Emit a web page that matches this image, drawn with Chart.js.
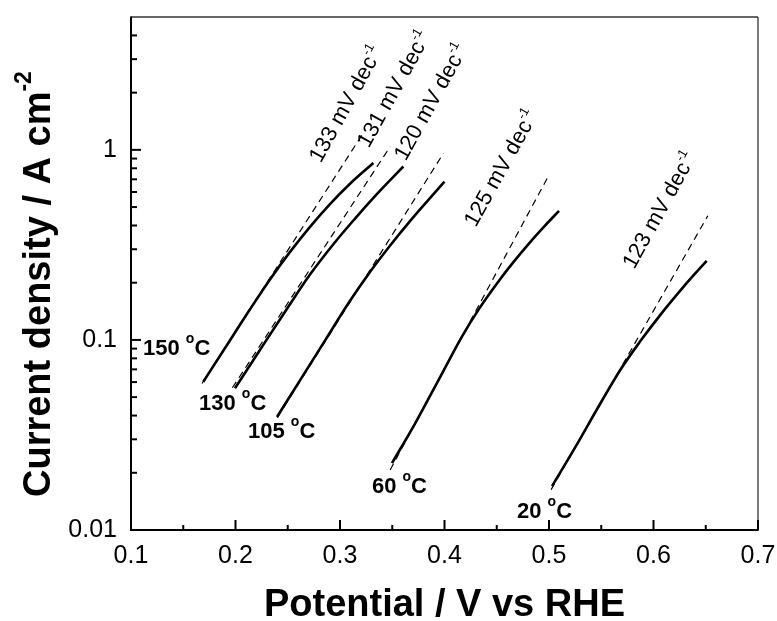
<!DOCTYPE html>
<html lang="en">
<head>
    <meta charset="UTF-8">
    <title>Tafel plots</title>
    <script src="https://cdn.jsdelivr.net/npm/chart.js"></script>
    <style>
        body { margin: 0; background: #fff; }
        canvas { display: block; }
    </style>
</head>
<body>
    <canvas id="chart" width="777" height="621"></canvas>
    <script>
        // measured curves: potential (V vs RHE) and current density (A cm-2)
        const potential150 = [0.1692, 0.1900, 0.2139, 0.2330, 0.2522, 0.2713, 0.2904, 0.3096, 0.3319];
        const current150 = [0.0603, 0.0907, 0.1450, 0.2082, 0.2905, 0.3933, 0.5184, 0.6632, 0.8521];
        const potential130 = [0.1995, 0.2234, 0.2474, 0.2713, 0.2952, 0.3144, 0.3335, 0.3478, 0.3606];
        const current130 = [0.0557, 0.0886, 0.1407, 0.2209, 0.3267, 0.4349, 0.5705, 0.6910, 0.8171];
        const potential105 = [0.2397, 0.2617, 0.2856, 0.3096, 0.3287, 0.3478, 0.3670, 0.3842, 0.4000];
        const current105 = [0.0393, 0.0613, 0.0992, 0.1606, 0.2277, 0.3128, 0.4214, 0.5422, 0.680];
        const potential60 = [0.3498, 0.3718, 0.3957, 0.4167, 0.4340, 0.4502, 0.4665, 0.4818, 0.4962, 0.5096];
        const current60 = [0.0225, 0.0363, 0.0636, 0.1042, 0.1483, 0.1983, 0.2589, 0.3264, 0.3996, 0.4776];
        const potential20 = [0.5029, 0.5249, 0.5469, 0.5679, 0.5871, 0.6062, 0.6254, 0.6397, 0.6509];
        const current20 = [0.0170, 0.0271, 0.0441, 0.0691, 0.0980, 0.1347, 0.1811, 0.2230, 0.2604];

        // Tafel fits (dashed), end points of each line
        const tafelPotential150 = [0.168, 0.322];
        const tafelCurrent150 = [0.059, 1.22];
        const tafelPotential130 = [0.197, 0.348];
        const tafelCurrent130 = [0.056, 1.04];
        const tafelPotential105 = [0.240, 0.399];
        const tafelCurrent105 = [0.039, 0.96];
        const tafelPotential60 = [0.348, 0.499];
        const tafelCurrent60 = [0.0207, 0.72];
        const tafelPotential20 = [0.502, 0.652];
        const tafelCurrent20 = [0.0163, 0.45];

        const temperatures = ['150', '130', '105', '60', '20'];
        const tafelSlopes = ['133', '131', '120', '125', '123'];

        // axis ticks
        const xTickValues = [0.1, 0.2, 0.3, 0.4, 0.5, 0.6, 0.7];
        const xTickLabels = ['0.1', '0.2', '0.3', '0.4', '0.5', '0.6', '0.7'];
        const xMinorTicks = [0.15, 0.25, 0.35, 0.45, 0.55, 0.65];
        const yTickValues = [0.01, 0.1, 1];
        const yTickLabels = ['0.01', '0.1', '1'];
        const yMinorTicks = [0.02, 0.03, 0.04, 0.05, 0.06, 0.07, 0.08, 0.09,
                             0.2, 0.3, 0.4, 0.5, 0.6, 0.7, 0.8, 0.9, 2, 3, 4];

        // where the annotations sit, in data units
        const tempLabelX = [0.1115, 0.1651, 0.2120, 0.3306, 0.4694];
        const tempLabelY = [0.0834, 0.0428, 0.0305, 0.01565, 0.01157];
        const slopeLabelX = [0.2815, 0.3275, 0.3628, 0.4300, 0.5815];
        const slopeLabelY = [0.844, 1.012, 0.865, 0.3886, 0.2336];

        const FONT = '"Liberation Sans", Arial, Helvetica, sans-serif';
        Chart.defaults.font.family = FONT;
        Chart.defaults.color = '#000';

        const toPoints = (xs, ys) => xs.map((x, i) => ({ x: x, y: ys[i] }));

        const curves = [
            [potential150, current150], [potential130, current130], [potential105, current105],
            [potential60, current60], [potential20, current20]
        ];
        const fits = [
            [tafelPotential150, tafelCurrent150], [tafelPotential130, tafelCurrent130],
            [tafelPotential105, tafelCurrent105], [tafelPotential60, tafelCurrent60],
            [tafelPotential20, tafelCurrent20]
        ];

        const datasets = [];
        curves.forEach((c, i) => datasets.push({
            label: temperatures[i] + ' °C',
            data: toPoints(c[0], c[1]),
            borderColor: '#000',
            borderWidth: 2.6,
            pointRadius: 0,
            cubicInterpolationMode: 'monotone',
            order: 0
        }));
        fits.forEach((f, i) => datasets.push({
            label: tafelSlopes[i] + ' mV dec-1',
            data: toPoints(f[0], f[1]),
            borderColor: '#000',
            borderWidth: 1.2,
            borderDash: [7, 5],
            pointRadius: 0,
            order: 1
        }));

        function drawRich(ctx, x, y, angle, parts, align) {
            ctx.save();
            ctx.translate(x, y);
            ctx.rotate(angle);
            ctx.textBaseline = 'alphabetic';
            ctx.textAlign = 'left';
            ctx.fillStyle = '#000';
            let total = 0;
            parts.forEach(p => { ctx.font = p.font; total += ctx.measureText(p.text).width; });
            let cx = align === 'center' ? -total / 2 : 0;
            parts.forEach(p => {
                ctx.font = p.font;
                ctx.fillText(p.text, cx, -(p.rise || 0));
                cx += ctx.measureText(p.text).width;
            });
            ctx.restore();
        }

        function line(ctx, x1, y1, x2, y2) {
            ctx.beginPath();
            ctx.moveTo(x1, y1);
            ctx.lineTo(x2, y2);
            ctx.stroke();
        }

        const decorations = {
            id: 'decorations',
            afterDraw(chart) {
                const ctx = chart.ctx;
                const a = chart.chartArea;
                const xs = chart.scales.x;
                const ys = chart.scales.y;

                ctx.save();
                // frame
                ctx.strokeStyle = '#333';
                ctx.lineWidth = 1.3;
                line(ctx, a.left, a.top, a.right, a.top);
                line(ctx, a.right, a.top, a.right, a.bottom);
                ctx.strokeStyle = '#000';
                ctx.lineWidth = 2;
                line(ctx, a.left, a.top - 0.6, a.left, a.bottom + 1);
                line(ctx, a.left - 1, a.bottom, a.right + 0.6, a.bottom);

                // inward ticks
                xTickValues.forEach(v => {
                    const px = xs.getPixelForValue(v);
                    line(ctx, px, a.bottom, px, a.bottom - 10);
                });
                xMinorTicks.forEach(v => {
                    const px = xs.getPixelForValue(v);
                    line(ctx, px, a.bottom, px, a.bottom - 5);
                });
                yTickValues.forEach(v => {
                    const py = ys.getPixelForValue(v);
                    line(ctx, a.left, py, a.left + 10, py);
                });
                yMinorTicks.forEach(v => {
                    const py = ys.getPixelForValue(v);
                    line(ctx, a.left, py, a.left + 6, py);
                });
                ctx.restore();

                // temperature labels
                temperatures.forEach((t, i) => {
                    drawRich(ctx, xs.getPixelForValue(tempLabelX[i]), ys.getPixelForValue(tempLabelY[i]), 0, [
                        { text: t + ' ', font: 'bold 22px ' + FONT },
                        { text: 'o', font: 'bold 14px ' + FONT, rise: 12 },
                        { text: 'C', font: 'bold 22px ' + FONT }
                    ]);
                });

                // Tafel slope labels
                const tilt = -61 * Math.PI / 180;
                tafelSlopes.forEach((s, i) => {
                    drawRich(ctx, xs.getPixelForValue(slopeLabelX[i]), ys.getPixelForValue(slopeLabelY[i]), tilt, [
                        { text: s + ' mV dec', font: '22px ' + FONT },
                        { text: '-1', font: '13px ' + FONT, rise: 10 }
                    ]);
                });

                // axis titles
                drawRich(ctx, (a.left + a.right) / 2, a.bottom + 86, 0, [
                    { text: 'Potential / V vs RHE', font: 'bold 38px ' + FONT }
                ], 'center');
                drawRich(ctx, a.left - 81, a.bottom - 33, -Math.PI / 2, [
                    { text: 'Current density / A cm', font: 'bold 38px ' + FONT },
                    { text: '-2', font: 'bold 23px ' + FONT, rise: 19 }
                ]);
            }
        };

        new Chart(document.getElementById('chart'), {
            type: 'line',
            data: { datasets: datasets },
            options: {
                responsive: false,
                animation: false,
                layout: { padding: { top: 17, right: 19, left: 0, bottom: 0 }, autoPadding: false },
                plugins: { legend: { display: false }, tooltip: { enabled: false } },
                scales: {
                    x: {
                        type: 'linear',
                        min: 0.1,
                        max: 0.7,
                        grid: { display: false, drawTicks: false },
                        border: { display: false },
                        ticks: {
                            font: { size: 25 },
                            color: '#000',
                            padding: 11,
                            maxRotation: 0,
                            autoSkip: false,
                            callback: (v, i) => xTickLabels[i]
                        },
                        afterBuildTicks: s => { s.ticks = xTickValues.map(v => ({ value: v })); },
                        afterFit: s => { s.height = 91; s.paddingLeft = 0; s.paddingRight = 0; }
                    },
                    y: {
                        type: 'logarithmic',
                        min: 0.01,
                        max: 5,
                        grid: { display: false, drawTicks: false },
                        border: { display: false },
                        ticks: {
                            font: { size: 25 },
                            color: '#000',
                            padding: 14,
                            autoSkip: false,
                            callback: (v, i) => yTickLabels[i]
                        },
                        afterBuildTicks: s => { s.ticks = yTickValues.map(v => ({ value: v })); },
                        afterFit: s => { s.width = 131; s.paddingTop = 0; s.paddingBottom = 0; }
                    }
                }
            },
            plugins: [decorations]
        });
    </script>
</body>
</html>
